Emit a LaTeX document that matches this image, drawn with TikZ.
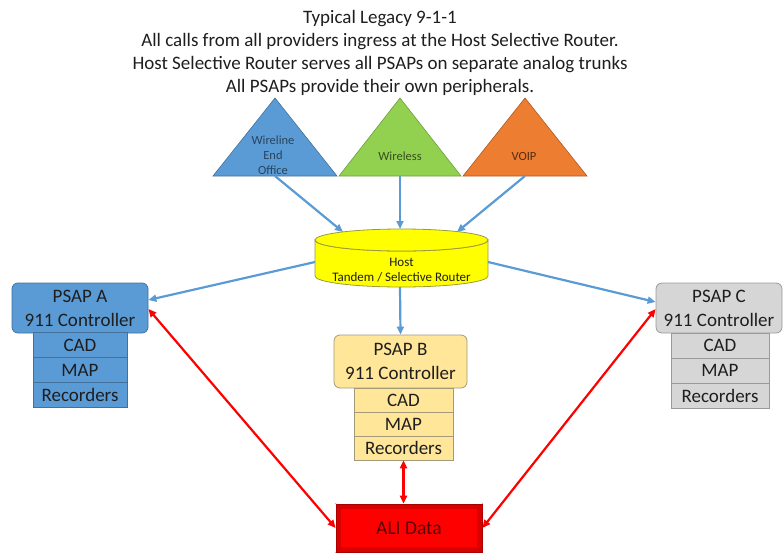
\documentclass[tikz,border=0pt]{standalone}
\usepackage{fontspec}
\setmainfont{Carlito}
\usetikzlibrary{arrows.meta}
\definecolor{offblue}{HTML}{5B9BD5}
\definecolor{offblueedge}{HTML}{41719C}
\definecolor{offgreen}{HTML}{92D050}
\definecolor{offgreenedge}{HTML}{6E9E3A}
\definecolor{offorange}{HTML}{ED7D31}
\definecolor{offorangeedge}{HTML}{AE5A21}
\definecolor{psapb}{HTML}{FFE699}
\definecolor{psapbedge}{HTML}{A39A7A}
\definecolor{psapc}{HTML}{D6D6D6}
\definecolor{psapcedge}{HTML}{9A9A9A}
\definecolor{linkblue}{HTML}{5B9BD5}
\definecolor{alired}{HTML}{FF0000}
\definecolor{aliedge}{HTML}{A80000}
\definecolor{routeryellow}{HTML}{FFFF00}
\definecolor{routeredge}{HTML}{9A9A40}
\definecolor{inktext}{HTML}{1E1E1E}

\tikzset{
  feed/.style={draw=linkblue, line width=2.2pt, -{Triangle[length=8pt,width=7pt]}},
  alilink/.style={draw=red, line width=2.2pt,
    {Triangle[length=8pt,width=7pt]}-{Triangle[length=8pt,width=7pt]}},
  headbox/.style={rectangle, rounded corners=6pt, line width=0.8pt, align=center,
    inner sep=0pt, font=\fontsize{19}{24}\selectfont, text=inktext},
  subbox/.style={rectangle, line width=0.8pt, inner sep=0pt,
    font=\fontsize{19}{20}\selectfont, text=inktext},
  tritext/.style={align=center, inner sep=0pt, font=\fontsize{12.5}{15}\selectfont},
  source/.style={line width=0.6pt, line join=miter},
}

\begin{document}
\begin{tikzpicture}[x=1pt,y=-1pt]
\useasboundingbox (0,0) rectangle (783,554);

% heading
\node[align=center, inner sep=0pt, font=\fontsize{19}{23}\selectfont, text=inktext]
  (title) at (380,53)
  {Typical Legacy 9-1-1\\
   All calls from all providers ingress at the Host Selective Router.\\
   Host Selective Router serves all PSAPs on separate analog trunks\\
   All PSAPs provide their own peripherals.};

% call sources
\fill[offblue, draw=offblueedge, source] (213,176) -- (275,98) -- (337,176) -- cycle;
\fill[offgreen, draw=offgreenedge, source] (339,176) -- (400,98) -- (461,176) -- cycle;
\fill[offorange, draw=offorangeedge, source] (463,176) -- (525,98) -- (587,176) -- cycle;
\node[tritext, text=offblueedge!60!black] (wireline) at (273,155) {Wireline\\End\\Office};
\node[tritext, text=offgreenedge!50!black] (wireless) at (400,156) {Wireless};
\node[tritext, text=offorangeedge!50!black] (voip) at (524,156) {VOIP};
\coordinate (wirelineBase) at (275,176);
\coordinate (wirelessBase) at (400,176);
\coordinate (voipBase) at (525,176);

% host tandem / selective router
\fill[routeryellow, draw=routeredge, line width=0.8pt]
  (315,240) -- (315,276) arc[start angle=180, end angle=0, x radius=86.5, y radius=11]
  -- (488,240) arc[start angle=0, end angle=180, x radius=86.5, y radius=11] -- cycle;
\draw[routeredge, fill=routeryellow, line width=0.8pt] (401.5,240) ellipse [x radius=86.5, y radius=11];
\node[align=center, inner sep=0pt, minimum width=173pt, minimum height=30pt,
      font=\fontsize{13}{15}\selectfont, text=inktext] (router) at (401.5,270)
  {Host\\Tandem / Selective Router};
\coordinate (routerTopL) at (343,232);
\coordinate (routerTopM) at (400,229);
\coordinate (routerTopR) at (457,232);
\coordinate (routerL) at (315,262);
\coordinate (routerR) at (488,262);
\coordinate (routerB) at (400,287);

% PSAP A
\node[headbox, fill=offblue, draw=offblueedge, minimum width=136pt, minimum height=50pt]
  (psapA) at (80,308) {PSAP A\\911 Controller};
\node[subbox, fill=offblue, draw=offblueedge, minimum width=94pt, minimum height=25pt]
  (aCAD) at (80,345) {CAD};
\node[subbox, fill=offblue, draw=offblueedge, minimum width=94pt, minimum height=25pt]
  (aMAP) at (80,370) {MAP};
\node[subbox, fill=offblue, draw=offblueedge, minimum width=94pt, minimum height=25pt]
  (aRec) at (80,395) {Recorders};

% PSAP B
\node[headbox, fill=psapb, draw=psapbedge, minimum width=133pt, minimum height=53pt]
  (psapB) at (400.5,361.5) {PSAP B\\911 Controller};
\node[subbox, fill=psapb, draw=psapbedge, minimum width=99pt, minimum height=24pt]
  (bCAD) at (403.5,400) {CAD};
\node[subbox, fill=psapb, draw=psapbedge, minimum width=99pt, minimum height=24pt]
  (bMAP) at (403.5,424) {MAP};
\node[subbox, fill=psapb, draw=psapbedge, minimum width=99pt, minimum height=24pt]
  (bRec) at (403.5,448) {Recorders};

% PSAP C
\node[headbox, fill=psapc, draw=psapcedge, minimum width=126pt, minimum height=50pt]
  (psapC) at (719,308) {PSAP C\\911 Controller};
\node[subbox, fill=psapc, draw=psapcedge, minimum width=98pt, minimum height=25pt]
  (cCAD) at (720,345.5) {CAD};
\node[subbox, fill=psapc, draw=psapcedge, minimum width=98pt, minimum height=25pt]
  (cMAP) at (720,370.5) {MAP};
\node[subbox, fill=psapc, draw=psapcedge, minimum width=98pt, minimum height=25pt]
  (cRec) at (720,395.5) {Recorders};

% ALI database (bevelled block)
\node[rectangle, fill=alired!85!black, draw=aliedge, line width=0.8pt,
      minimum width=146pt, minimum height=48pt, inner sep=0pt] (ali) at (409,528) {};
\fill[alired] ([shift={(5,5)}]ali.north west) rectangle ([shift={(-5,-5)}]ali.south east);
\draw[aliedge!70!red, line width=0.5pt]
  (ali.north west) -- ([shift={(5,5)}]ali.north west)
  (ali.north east) -- ([shift={(-5,5)}]ali.north east)
  (ali.south west) -- ([shift={(5,-5)}]ali.south west)
  (ali.south east) -- ([shift={(-5,-5)}]ali.south east);
\node[font=\fontsize{19.5}{20}\selectfont, text=aliedge!50!black, inner sep=0pt] (aliText) at (ali) {ALI Data};

% trunks from the sources into the router
\draw[feed] (wirelineBase) -- (routerTopL);
\draw[feed] (wirelessBase) -- (routerTopM);
\draw[feed] (voipBase) -- (routerTopR);

% router to the PSAPs
\draw[feed] (routerL) -- (psapA.east |- 0,300);
\draw[feed] (routerB) -- (psapB.north);
\draw[feed] (routerR) -- (psapC.west |- 0,302);

% ALI links
\draw[alilink] (psapA.east |- 0,309) -- (ali.west);
\draw[alilink] (psapC.west |- 0,309) -- (ali.east);
\draw[alilink] (bRec.south) -- (ali.north -| bRec.south);
\end{tikzpicture}
\end{document}
